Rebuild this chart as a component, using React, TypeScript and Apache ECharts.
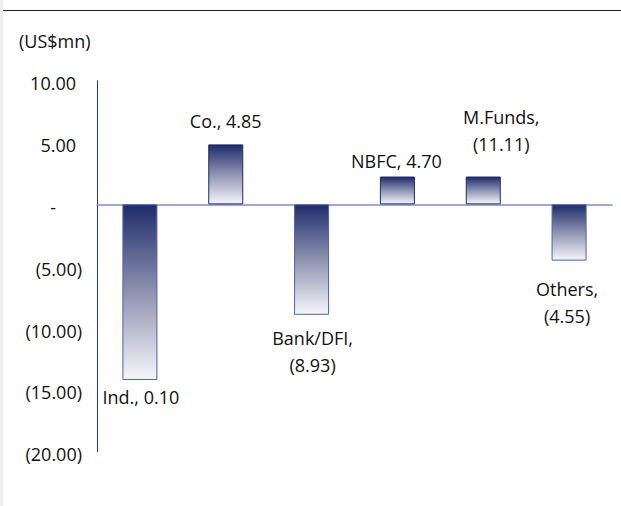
import React, { useEffect, useRef } from "react";
import * as echarts from "echarts";

// Net flows by investor type (US$mn)
const categories = ["Ind.", "Co.", "Bank/DFI", "NBFC", "M.Funds", "Others"];
const barValues = [-14.2, 4.85, -8.93, 2.25, 2.25, -4.55];
const labelFigures = [0.1, 4.85, -8.93, 4.7, -11.11, -4.55];
const yMin = -20;
const yMax = 10;
const yStep = 5;

// label placement per bar: gap from bar end, horizontal nudge, two-line or not
const labelLayout = [
  { distance: 6, dx: 1, wrap: false },
  { distance: 12, dx: 0, wrap: false },
  { distance: 10, dx: 1, wrap: true },
  { distance: 5, dx: -1, wrap: false },
  { distance: 19, dx: 18, wrap: true },
  { distance: 15, dx: -2, wrap: true },
];

const FONT = "'Open Sans', 'Noto Sans', sans-serif";
const FS = 18;

const fmtFigure = (v: number) =>
  v < 0 ? `(${Math.abs(v).toFixed(2)})` : v.toFixed(2);

const fmtTick = (v: number) => {
  if (v === 0) return "{z|-}";
  if (v < 0) return `{n|(${Math.abs(v).toFixed(2)})}`;
  return `{p|${v.toFixed(2)}}`;
};

export default function App() {
  const ref = useRef<HTMLDivElement>(null);

  useEffect(() => {
    document.body.style.margin = "0";
    if (!ref.current) return;
    const chart = echarts.init(ref.current, undefined, { renderer: "svg" });

    const barGradient = new echarts.graphic.LinearGradient(0, 0, 0, 1, [
      { offset: 0, color: "#1f2c6c" },
      { offset: 0.5, color: "#8e93b0" },
      { offset: 1, color: "#f6f6fa" },
    ]);

    const data = barValues.map((v, i) => {
      const lay = labelLayout[i];
      const text =
        categories[i] + (lay.wrap ? ",\n" : ", ") + fmtFigure(labelFigures[i]);
      return {
        value: v,
        itemStyle: {
          color: barGradient,
          borderColor: v >= 0 ? "#1c2a70" : "#4a62a6",
          borderWidth: 1,
        },
        label: {
          show: true,
          position: v >= 0 ? "top" : "bottom",
          distance: lay.distance,
          offset: [lay.dx, 0],
          formatter: () => text,
          lineHeight: lay.wrap ? 27 : 22,
        },
      };
    });

    chart.setOption({
      animation: false,
      backgroundColor: "#ffffff",
      textStyle: { fontFamily: FONT },
      graphic: [
        {
          type: "rect",
          left: 0,
          top: 0,
          shape: { width: 3, height: 506 },
          style: { fill: "#eeeef1" },
        },
        {
          type: "line",
          shape: { x1: 3, y1: 10.5, x2: 621, y2: 10.5 },
          style: { stroke: "#222222", lineWidth: 1.2 },
        },
        {
          type: "text",
          left: 19,
          top: 32,
          style: {
            text: "(US$mn)",
            fill: "#111111",
            font: `${FS}px ${FONT}`,
          },
        },
      ],
      grid: { left: 97, right: 9, top: 80.7, bottom: 54.3 },
      xAxis: {
        type: "category",
        data: categories,
        axisLine: { onZero: true, lineStyle: { color: "#7d90c2", width: 1.5 } },
        axisTick: { show: false },
        axisLabel: { show: false },
        splitLine: { show: false },
      },
      yAxis: {
        type: "value",
        min: yMin,
        max: yMax,
        interval: yStep,
        axisLine: { show: true, lineStyle: { color: "#1f3a8c", width: 1 } },
        axisTick: { show: false },
        splitLine: { show: false },
        axisLabel: {
          margin: 15,
          formatter: fmtTick,
          padding: [5, 0, 0, 0],
          rich: {
            p: { fontSize: FS, fontFamily: FONT, color: "#111", padding: [0, 6, 0, 0] },
            n: { fontSize: FS, fontFamily: FONT, color: "#111" },
            z: { fontSize: FS, fontFamily: FONT, color: "#111", padding: [0, 26, 0, 0] },
          },
        },
      },
      series: [
        {
          type: "bar",
          data,
          barWidth: 35,
          label: {
            color: "#111111",
            fontSize: FS,
            fontFamily: FONT,
          },
        },
      ],
    });

    return () => chart.dispose();
  }, []);

  return (
    <div
      ref={ref}
      style={{ position: "absolute", left: 0, top: 0, width: 621, height: 506 }}
    />
  );
}
